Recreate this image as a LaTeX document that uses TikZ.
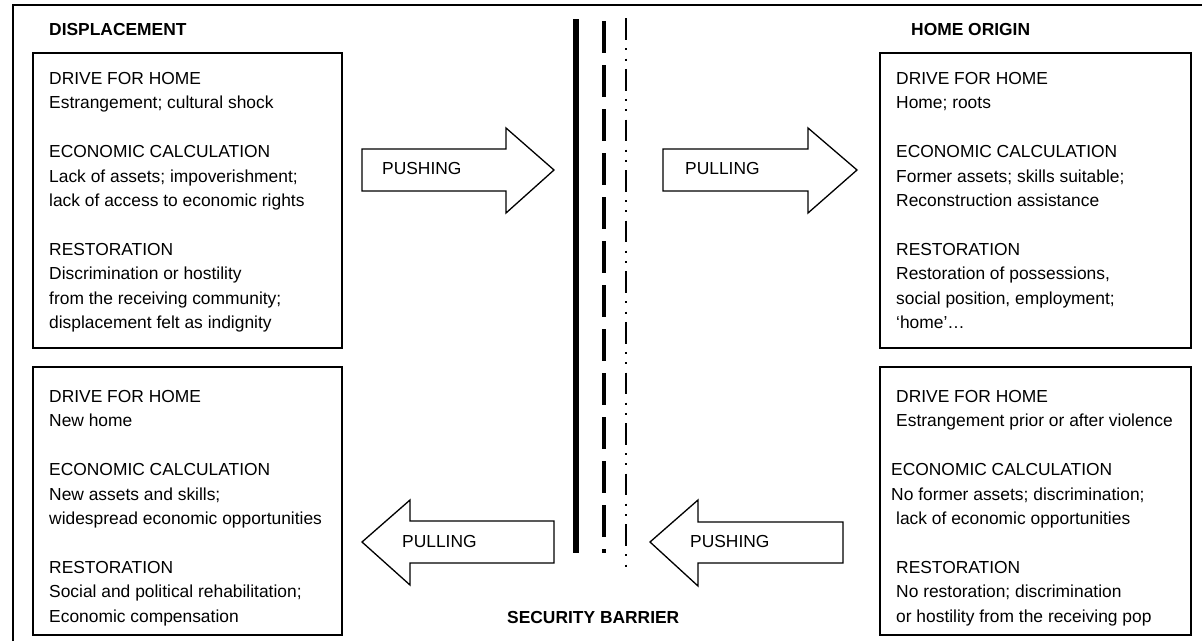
\documentclass[tikz,border=0pt]{standalone}
\usepackage{fontspec}
\setmainfont{Liberation Sans}
\begin{document}
\begin{tikzpicture}[x=1pt,y=-1pt,
  txt/.style={font=\fontsize{17.4}{24.4}\selectfont, inner sep=0pt, anchor=north west, align=left},
  ttl/.style={font=\fontsize{17.4}{20}\selectfont\bfseries, inner sep=0pt, anchor=base west},
  lbl/.style={font=\fontsize{17.4}{20}\selectfont, inner sep=0pt, anchor=base west},
  panel/.style={draw, line width=1.6pt, inner sep=0pt, anchor=north west},
  blockarrow/.style={draw, line width=1.3pt, line join=miter, fill=white},
  solidbar/.style={line width=5.3pt},
  dashbar/.style={line width=4pt, dash pattern=on 31.5pt off 12.5pt},
  dotbar/.style={line width=2pt, dash pattern=on 21.7pt off 8.3pt on 2pt off 8.3pt on 2pt off 8.3pt}
]
\useasboundingbox (0,0) rectangle (1202,641);
% outer frame
\coordinate (f1) at (13,641);
\coordinate (f2) at (13,5);
\coordinate (f3) at (1202,5);
\draw[line width=2pt] (f1) -- (f2) -- (f3);

% titles
\node[ttl] (disp) at (49,35) {DISPLACEMENT};
\node[ttl] (home) at (911,35) {HOME ORIGIN};
\node[ttl] (secb) at (507,623) {SECURITY BARRIER};

% panels
\node[panel, minimum width=309pt, minimum height=295pt] (b1) at (32,52) {};
\node[panel, minimum width=309pt, minimum height=268pt] (b2) at (32,366) {};
\node[panel, minimum width=311pt, minimum height=295pt] (b3) at (879,52) {};
\node[panel, minimum width=311pt, minimum height=268pt] (b4) at (879,366) {};

\node[txt] (t1) at (49,72.1) {DRIVE FOR HOME\\
Estrangement; cultural shock\\[24.4pt]
ECONOMIC CALCULATION\\
Lack of assets; impoverishment;\\
lack of access to economic rights\\[24.4pt]
RESTORATION\\
Discrimination or hostility\\
from the receiving community;\\
displacement felt as indignity};

\node[txt] (t2) at (49,390.1) {DRIVE FOR HOME\\
New home\\[24.4pt]
ECONOMIC CALCULATION\\
New assets and skills;\\
widespread economic opportunities\\[24.4pt]
RESTORATION\\
Social and political rehabilitation;\\
Economic compensation};

\node[txt] (t3) at (896,72.1) {DRIVE FOR HOME\\
Home; roots\\[24.4pt]
ECONOMIC CALCULATION\\
Former assets; skills suitable;\\
Reconstruction assistance\\[24.4pt]
RESTORATION\\
Restoration of possessions,\\
social position, employment;\\
‘home’…};

\node[txt] (t4) at (891,390.1) {\hspace*{5pt}DRIVE FOR HOME\\
\hspace*{5pt}Estrangement prior or after violence\\[24.4pt]
ECONOMIC CALCULATION\\
No former assets; discrimination;\\
\hspace*{5pt}lack of economic opportunities\\[24.4pt]
\hspace*{5pt}RESTORATION\\
\hspace*{5pt}No restoration; discrimination\\
\hspace*{5pt}or hostility from the receiving pop};

% barrier lines
\coordinate (s1) at (576,19);  \coordinate (s2) at (576,553);
\coordinate (d1) at (604,21);  \coordinate (d2) at (604,553);
\coordinate (p1) at (625.7,18.3); \coordinate (p2) at (625.7,567);
\draw[solidbar] (s1) -- (s2);
\draw[dashbar] (d1) -- (d2);
\draw[dotbar] (p1) -- (p2);

% block arrows
\draw[blockarrow] (362,149) -- (506,149) -- (506,128) -- (554,170) -- (506,213) -- (506,191) -- (362,191) -- cycle;
\node[lbl] (push1) at (382,174) {PUSHING};
\draw[blockarrow] (663,149) -- (808,149) -- (808,128) -- (857,170) -- (808,213) -- (808,191) -- (663,191) -- cycle;
\node[lbl] (pull1) at (685,174) {PULLING};
\draw[blockarrow] (554,521) -- (410,521) -- (410,500) -- (362,542) -- (410,585) -- (410,563) -- (554,563) -- cycle;
\node[lbl] (pull2) at (402,547) {PULLING};
\draw[blockarrow] (843,522) -- (698,522) -- (698,500) -- (650,542) -- (698,586) -- (698,563) -- (843,563) -- cycle;
\node[lbl] (push2) at (690,547) {PUSHING};
\end{tikzpicture}
\end{document}
